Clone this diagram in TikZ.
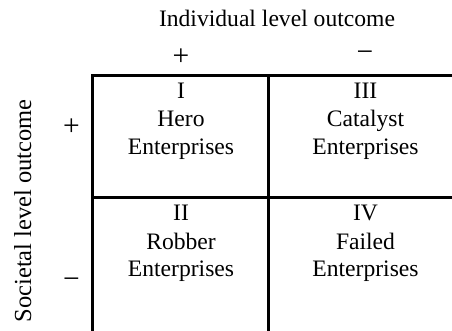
\documentclass[tikz,border=0pt]{standalone}
\usepackage{fontspec}
\setmainfont{Liberation Serif}
\begin{document}
\begin{tikzpicture}[x=1pt,y=-1pt,
  celltext/.style={anchor=base,inner sep=0pt,font=\fontsize{23.6}{28}\selectfont},
  signtext/.style={anchor=base,inner sep=0pt,font=\fontsize{29.5}{34}\selectfont},
  gridline/.style={line width=3pt,line join=miter}]
\useasboundingbox (0,0) rectangle (452,331);
% grid
\coordinate (tl) at (92.5,75.5);
\coordinate (bl) at (92.5,335);
\coordinate (tr) at (456,75.5);
\draw[gridline] (bl) -- (tl) -- (tr);
\draw[gridline] (268.5,75.5) -- (268.5,335);
\draw[gridline] (92.5,197.5) -- (456,197.5);
% axis labels
\node[celltext] (title) at (277,26.7) {Individual level outcome};
\node[celltext,font=\fontsize{24.5}{28}\selectfont,rotate=90] (side) at (31,210.8) {Societal level outcome};
\node[signtext] (tplus) at (181,66) {+};
\node[signtext] (tminus) at (365,62) {−};
\node[signtext] (lplus) at (71.5,135.5) {+};
\node[signtext] (lminus) at (71.5,288.7) {−};
% cells
\node[celltext] (c1a) at (181,98.7) {I};
\node[celltext] (c1b) at (181,127) {Hero};
\node[celltext] (c1c) at (181,154.3) {Enterprises};
\node[celltext] (c3a) at (365.5,98.7) {III};
\node[celltext] (c3b) at (365.5,127) {Catalyst};
\node[celltext] (c3c) at (365.5,154.3) {Enterprises};
\node[celltext] (c2a) at (181,220.7) {II};
\node[celltext] (c2b) at (181,249.5) {Robber};
\node[celltext] (c2c) at (181,276) {Enterprises};
\node[celltext] (c4a) at (365.5,220.7) {IV};
\node[celltext] (c4b) at (365.5,249.5) {Failed};
\node[celltext] (c4c) at (365.5,276) {Enterprises};
\end{tikzpicture}
\end{document}
